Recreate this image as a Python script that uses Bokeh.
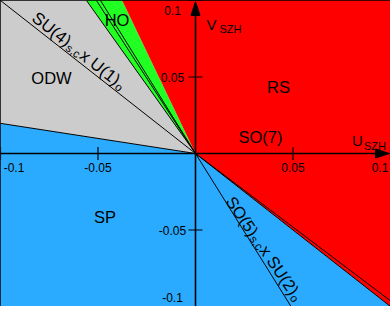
import numpy as np
from bokeh.plotting import figure
from bokeh.models import Range1d
from bokeh.core.properties import value
from bokeh.embed import file_html
from bokeh.resources import INLINE

# ---------------- data ----------------
u_min, u_max = -0.1, 0.1
v_min, v_max = -0.1, 0.1
ticks = [-0.1, -0.05, 0.05, 0.1]
tick_labels = ["-0.1", "-0.05", "0.05", "0.1"]

# phase boundaries: rays from the origin, given by their end point on the frame
sp_odw_end = [-0.1, 0.0197]
odw_ho_end = [-0.0559, 0.1]
ho_rs_end = [-0.0376, 0.1]
rs_sp_end = [0.1, -0.1]

# special symmetry lines (rays from the origin)
su4_end = [-0.1, 0.1]
so5_end = [0.049, -0.1]
ho_lines_u = [-0.0508, -0.0487]
ho_lines_v = [0.1, 0.1]
rs_line_end = [0.1, -0.0963]

phase_names = ["RS", "SO(7)", "ODW", "SP", "HO"]
col_sp = "#2AABFF"
col_odw = "#CCCCCC"
col_ho = "#22FF22"
col_rs = "#FF0000"

FONT = value("Liberation Sans")

# ---------------- figure ----------------
W, H = 390, 306
p = figure(width=W, height=H, output_backend="svg", toolbar_location=None,
           x_range=Range1d(u_min, u_max), y_range=Range1d(v_min, v_max),
           x_axis_location=None, y_axis_location=None, min_border=0,
           outline_line_color="black", outline_line_width=1.5,
           background_fill_color="white", border_fill_color="white")
p.xgrid.visible = False
p.ygrid.visible = False

kx = W / (u_max - u_min)
ky = H / (v_max - v_min)


def pos(px, py):
    """position on a 390x306 design grid -> data coords"""
    return (u_min + px / 390 * (u_max - u_min), v_max - py / 306 * (v_max - v_min))


# phase regions
xs = [
    [0, sp_odw_end[0], u_min, rs_sp_end[0]],
    [0, sp_odw_end[0], u_min, odw_ho_end[0]],
    [0, odw_ho_end[0], ho_rs_end[0]],
    [0, ho_rs_end[0], u_max, rs_sp_end[0]],
]
ys = [
    [0, sp_odw_end[1], v_min, rs_sp_end[1]],
    [0, sp_odw_end[1], v_max, odw_ho_end[1]],
    [0, odw_ho_end[1], ho_rs_end[1]],
    [0, ho_rs_end[1], v_max, rs_sp_end[1]],
]
p.patches(xs, ys, fill_color=[col_sp, col_odw, col_ho, col_rs], line_color=None)

# boundary / symmetry lines
ends_u = [sp_odw_end[0], su4_end[0], odw_ho_end[0]] + ho_lines_u + [so5_end[0], rs_line_end[0], rs_sp_end[0]]
ends_v = [sp_odw_end[1], su4_end[1], odw_ho_end[1]] + ho_lines_v + [so5_end[1], rs_line_end[1], rs_sp_end[1]]
p.multi_line([[0, u] for u in ends_u], [[0, v] for v in ends_v], line_color="black", line_width=1)

# axes with arrow heads
head_len, head_hw = 14, 4.5
tip_u = u_max - 1 / kx
tip_v = v_max - 1 / ky
p.segment(x0=[u_min, 0], y0=[0, v_min], x1=[tip_u - head_len / kx, 0], y1=[0, tip_v - head_len / ky],
          line_color="black", line_width=1.6)
p.patches([[tip_u, tip_u - head_len / kx, tip_u - head_len / kx], [0, -head_hw / kx, head_hw / kx]],
          [[0, head_hw / ky, -head_hw / ky], [tip_v, tip_v - head_len / ky, tip_v - head_len / ky]],
          fill_color="black", line_color="black", line_width=1)

# ticks
tk = np.array(ticks)
p.segment(x0=tk, y0=-6.5 / ky, x1=tk, y1=6.5 / ky, line_color="black", line_width=1.2)
p.segment(x0=-7 / kx, y0=tk, x1=7 / kx, y1=tk, line_color="black", line_width=1.2)

# tick labels
xl_u = np.clip(tk, pos(13.5, 0)[0], pos(379.5, 0)[0])
p.text(x=xl_u, y=[pos(0, 167)[1]] * len(tk), text=tick_labels, text_font=FONT, text_font_size="12px",
       text_align="center", text_baseline="middle", text_color="black")
yl_v = np.clip(tk, pos(0, 296.5)[1], pos(0, 10)[1])
p.text(x=[pos(172, 0)[0]] * len(tk), y=yl_v, text=tick_labels, text_font=FONT, text_font_size="12px",
       text_align="center", text_baseline="middle", text_color="black")

# axis titles with subscripts
for t, (px, py), fs in [("V", (206, 24.3), "15px"), ("SZH", (219, 28.5), "11px"),
                        ("U", (351.5, 140.3), "15px"), ("SZH", (363.5, 145.5), "11px")]:
    u, v = pos(px, py)
    p.text(x=[u], y=[v], text=[t], text_font=FONT, text_font_size=fs,
           text_align="left", text_baseline="alphabetic", text_color="black")

# phase names
name_pos = [(278, 86), (260, 136), (51, 77.5), (104.5, 216.5), (116.5, 19)]
nu = [pos(*q)[0] for q in name_pos]
nv = [pos(*q)[1] for q in name_pos]
p.text(x=nu, y=nv, text=phase_names, text_font=FONT, text_font_size="16.5px",
       text_align="center", text_baseline="middle", text_color="black")


def rot_label(start_px, angle_deg, pieces):
    a = np.deg2rad(angle_deg)          # clockwise angle below horizontal, screen
    d = np.array([np.cos(a), np.sin(a)])
    nrm = np.array([d[1], -d[0]])
    su, sv = pos(*start_px)
    for txt, s, t, fs in pieces:
        dx = s * d[0] + t * nrm[0]
        dy = s * d[1] + t * nrm[1]
        p.text(x=[su + dx / kx], y=[sv - dy / ky], text=[txt], angle=-a,
               text_font=FONT, text_font_size=fs, text_align="left",
               text_baseline="alphabetic", text_color="black")


rot_label((33.7, 15.2), 38.3, [("SU(4)", 0, 0, "17px"), ("s,c", 45, -3.5, "11.5px"),
                               ("x U(1)", 60.7, 0, "17px"), ("o", 107.5, -3.5, "11.5px")])
rot_label((229.5, 197.5), 55.6, [("SO(5)", 0, 0, "16.5px"), ("s,c", 44.5, -3.5, "11.5px"),
                                 ("x SU(2)", 59.5, 0, "16.5px"), ("o", 116, -3.5, "11.5px")])

open("out.html", "w").write(file_html(p, INLINE))
